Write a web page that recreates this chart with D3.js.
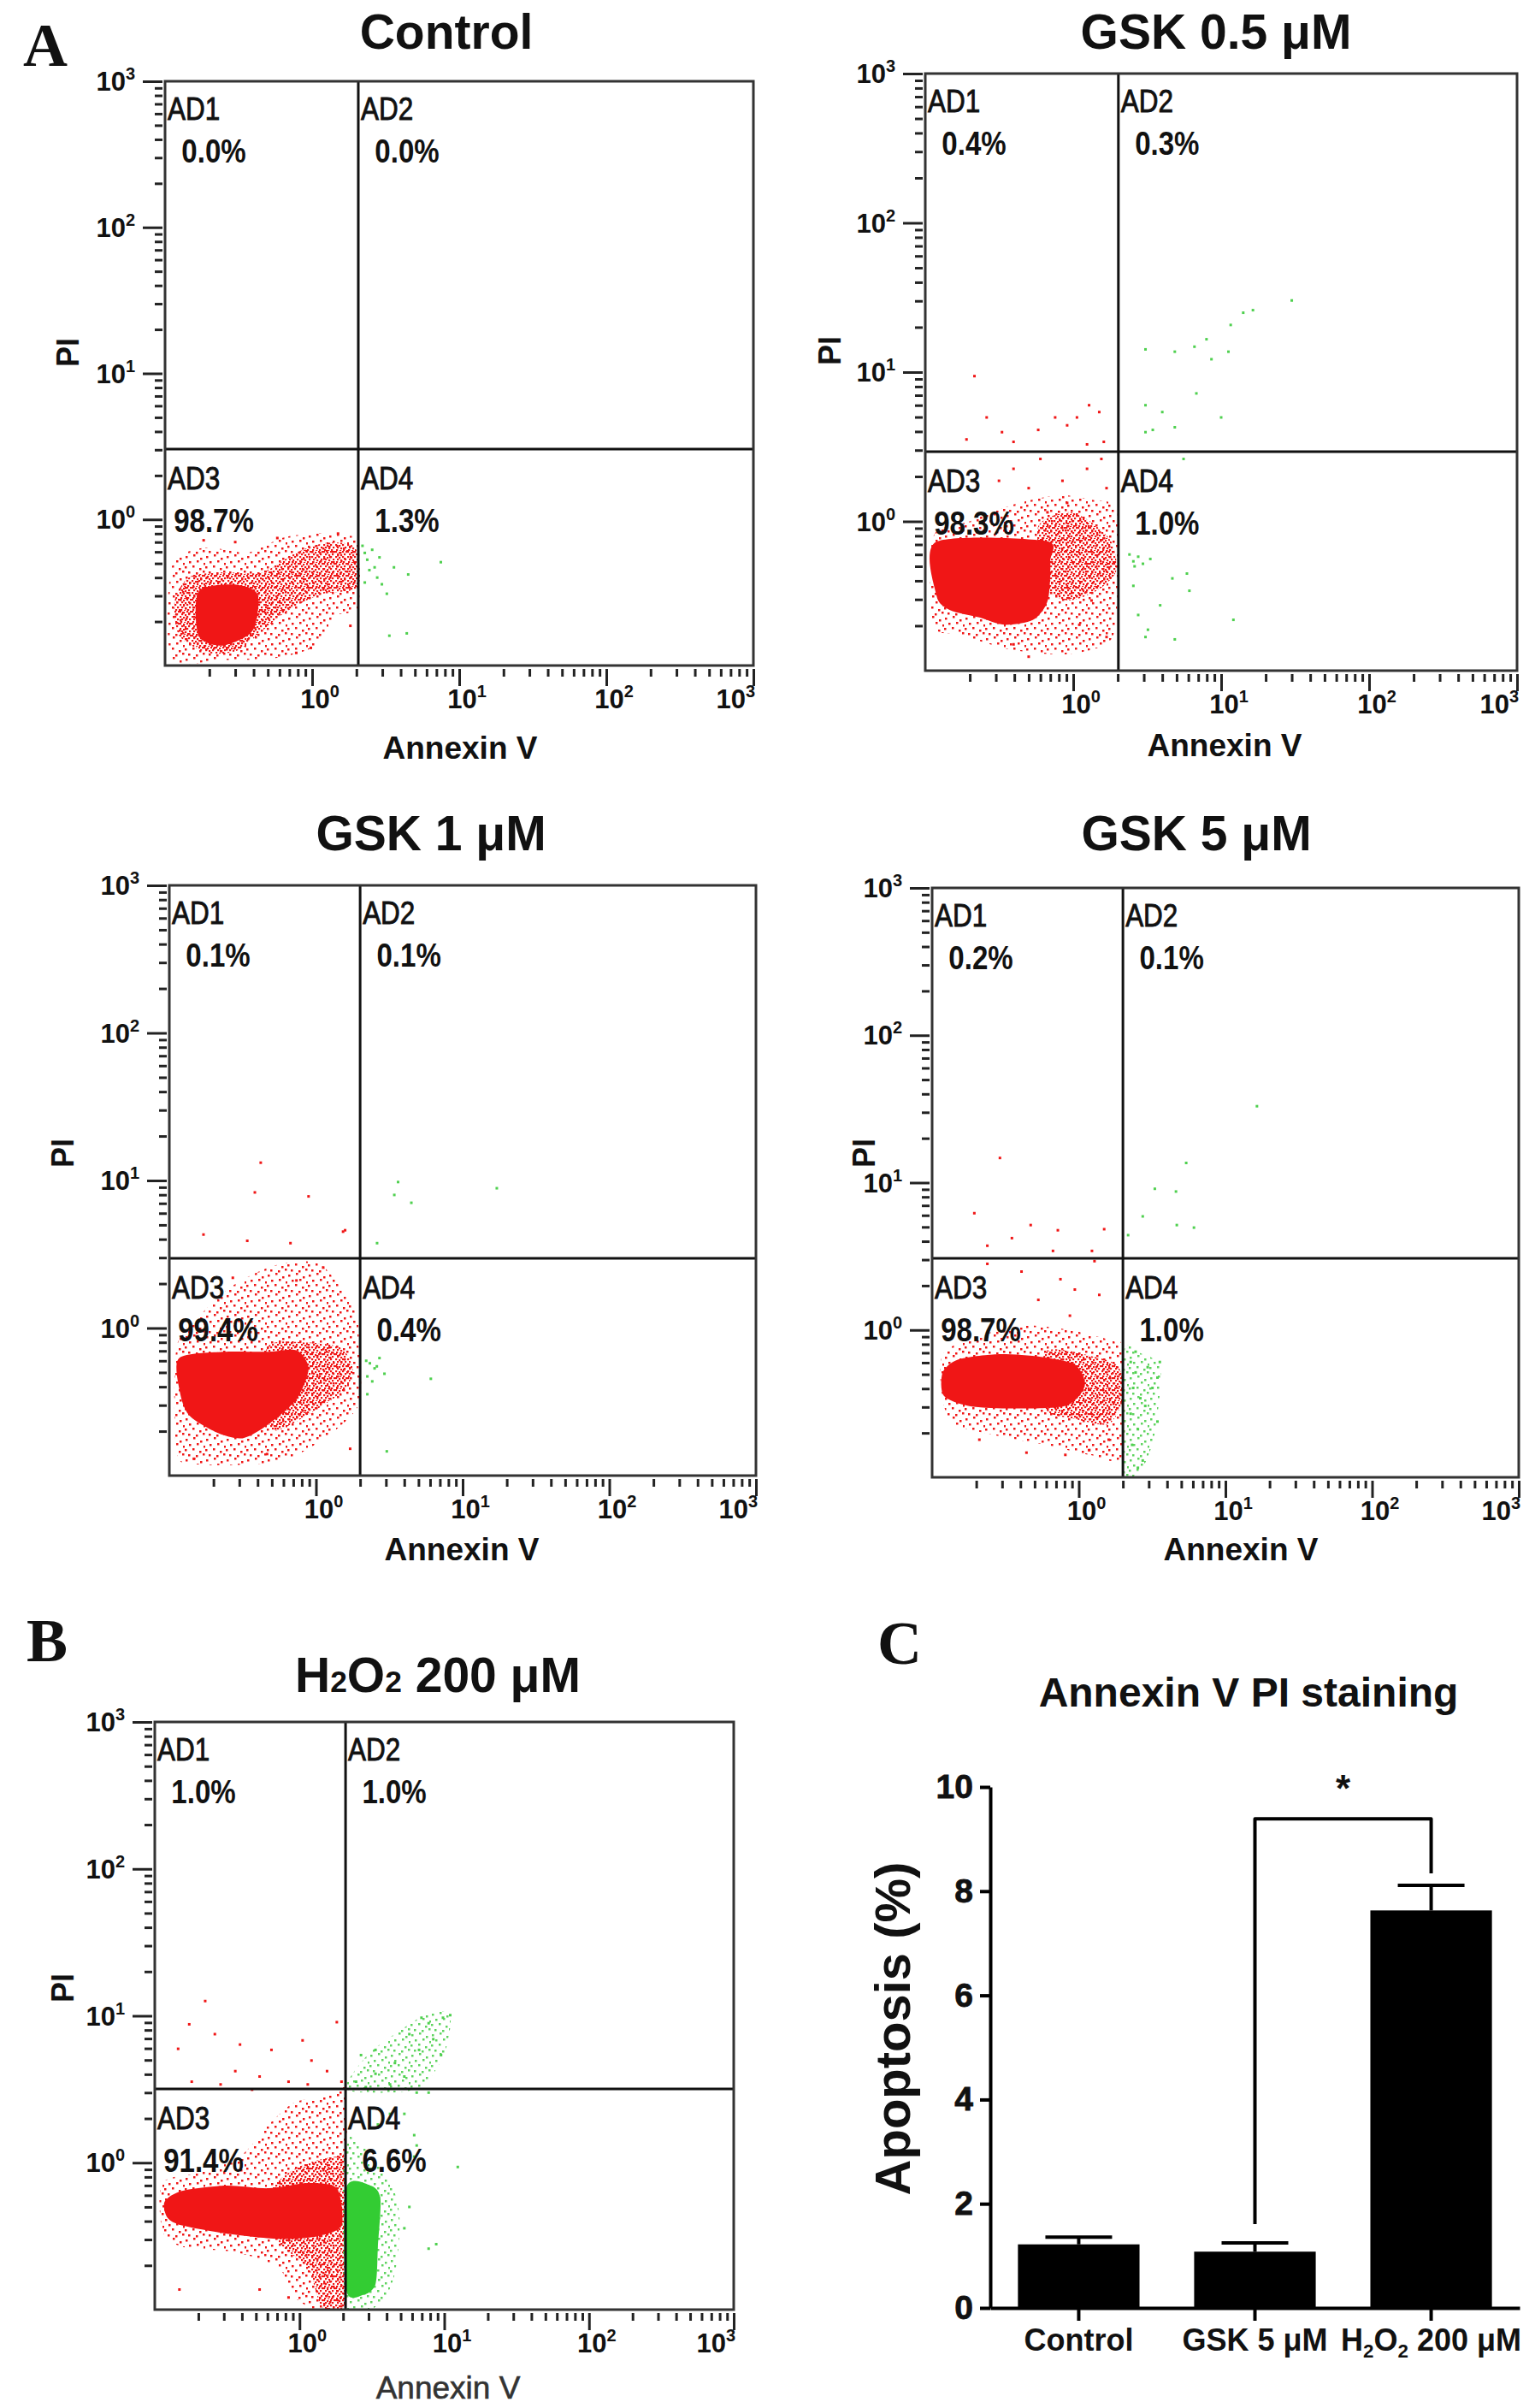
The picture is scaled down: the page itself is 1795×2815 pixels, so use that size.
<!DOCTYPE html>
<html>
<head>
<meta charset="utf-8">
<script src="https://cdn.jsdelivr.net/npm/d3@7"></script>
<style>
  body { margin: 0; background: #fff; }
  svg text { font-family: "Liberation Sans", Arial, sans-serif; fill: #111; }
</style>
</head>
<body>
<svg id="fig" width="1795" height="2815"></svg>
<script>
/*
Data
*/

const panelTitles = ["Control", "GSK 0.5 μM", "GSK 1 μM", "GSK 5 μM", "H2O2 200 μM"];
const quadrantNames = ["AD1", "AD2", "AD3", "AD4"];
const decadeTicks = [1, 10, 100, 1000];

// quadrant percentages AD1..AD4
const controlPct = [0.0, 0.0, 98.7, 1.3];
const gsk05Pct = [0.4, 0.3, 98.3, 1.0];
const gsk1Pct = [0.1, 0.1, 99.4, 0.4];
const gsk5Pct = [0.2, 0.1, 98.7, 1.0];
const h2o2Pct = [1.0, 1.0, 91.4, 6.6];

// quadrant gates [Annexin V, PI]
const controlGate = [2.06, 3.03];
const gsk05Gate = [2.02, 2.93];
const gsk1Gate = [2.0, 2.97];
const gsk5Gate = [2.0, 3.06];
const h2o2Gate = [2.08, 3.18];

// event clouds, outlines as [Annexin V, PI]
const controlCore = [[0.169,0.32],[0.29,0.359],[0.425,0.308],[0.394,0.173],[0.248,0.137],[0.169,0.16]];
const controlMid = [[0.116,0.274],[0.146,0.403],[0.248,0.435],[0.458,0.435],[0.78,0.593],[1.24,0.69],[1.96,0.64],[2.04,0.345],[1.15,0.308],[0.67,0.235],[0.458,0.173],[0.313,0.127],[0.198,0.122],[0.125,0.16]];
const controlHalo = [[0.111,0.47],[0.183,0.64],[0.364,0.593],[0.62,0.746],[1.06,0.806],[1.68,0.776],[2.06,0.69],[2.06,0.254],[1.44,0.218],[1.06,0.137],[0.577,0.113],[0.248,0.109],[0.111,0.113]];
const controlRed = [[1.82,0.187],[0.98,0.132],[0.78,0.122],[0.183,0.72],[0.58,0.746],[1.5,0.8],[0.3,0.7]];
const controlGreen = [[2.28,0.59],[2.37,0.53],[2.66,0.47],[2.87,0.55],[2.77,0.4],[2.98,0.36],[2.56,0.62],[3.6,0.47],[4.5,0.42],[7.5,0.51],[3.35,0.16],[4.4,0.166],[2.28,0.37],[3.22,0.31],[2.45,0.45],[2.2,0.66]];

const gsk05Core = [[0.119,0.73],[0.649,0.74],[0.7,0.54],[0.673,0.296],[0.536,0.219],[0.34,0.203],[0.232,0.227],[0.147,0.254],[0.119,0.319]];
const gsk05Mid = [[0.578,0.914],[0.913,1.15],[1.33,0.985],[1.81,0.73],[1.95,0.464],[1.44,0.343],[0.913,0.296],[0.649,0.37]];
const gsk05Halo = [[0.113,0.786],[0.2,1.0],[0.4,1.3],[0.8,1.5],[1.3,1.4],[1.95,1.2],[2.0,0.37],[1.81,0.162],[0.913,0.129],[0.367,0.139],[0.171,0.175],[0.113,0.203]];
const gsk05Red = [[0.215,9.4],[0.26,4.97],[0.19,3.54],[0.33,3.96],[0.395,3.41],[0.58,4.1],[0.755,4.97],[0.91,4.4],[1.06,4.97],[1.28,6.0],[1.5,5.4],[1.61,3.41],[1.24,3.28],[0.6,2.62],[0.395,2.25],[0.315,1.87],[0.5,1.67],[0.846,1.87],[1.24,2.25],[1.55,2.62],[1.68,1.67],[0.91,1.33],[0.67,1.15],[1.68,0.168],[0.5,0.124],[0.395,0.15],[1.33,0.295],[1.1,0.203]];
const gsk05Green = [[2.55,0.54],[2.75,0.58],[2.96,0.52],[3.32,0.56],[3.08,0.168],[3.2,0.188],[3.87,0.274],[4.68,0.415],[5.87,0.447],[6.1,0.343],[4.86,0.162],[2.55,0.37],[2.75,0.236],[12.1,0.219],[3.08,14.2],[4.86,13.7],[6.6,14.8],[7.96,16.6],[11.6,20.7],[14.1,25],[16.4,26],[30,30.2],[11.2,13.7],[8.6,12.2],[3.08,6.0],[4.0,5.4],[3.08,3.96],[3.45,4.1],[4.86,4.27],[6.8,7.2],[10,4.97],[5.57,2.62],[2.4,0.6],[2.6,0.5]];

const gsk1Core = [[0.117,0.626],[0.233,0.69],[0.464,0.69],[0.736,0.707],[0.89,0.532],[0.736,0.328],[0.464,0.219],[0.316,0.179],[0.215,0.194],[0.136,0.257],[0.117,0.385]];
const gsk1Mid = [[0.464,0.735],[0.857,0.797],[1.47,0.735],[1.78,0.532],[1.58,0.385],[1.0,0.279],[0.54,0.202],[0.464,0.257]];
const gsk1Halo = [[0.112,0.735],[0.158,1.19],[0.271,1.94],[0.54,2.68],[1.08,2.68],[1.85,1.29],[1.96,0.735],[1.96,0.303],[1.08,0.172],[0.54,0.124],[0.158,0.119],[0.112,0.146]];
const gsk1Red = [[0.42,13.2],[0.383,8.3],[0.89,7.8],[0.171,4.3],[0.34,3.9],[0.67,3.76],[1.53,4.5],[1.58,4.6],[1.12,2.57],[0.271,2.19],[0.736,2.1],[1.71,0.152],[0.147,0.13],[0.464,0.14]];
const gsk1Green = [[2.33,0.577],[2.51,0.533],[2.71,0.626],[2.24,0.47],[2.93,0.49],[2.42,0.435],[6.07,0.453],[3.63,9.76],[3.42,7.98],[4.47,7.06],[17.1,8.86],[2.61,3.76],[3.04,0.146],[2.24,0.356],[2.2,0.6],[2.6,0.55]];

const gsk5Core = [[0.118,0.515],[0.151,0.631],[0.278,0.684],[0.552,0.657],[0.94,0.582],[1.1,0.421],[0.81,0.305],[0.324,0.293],[0.176,0.305],[0.12,0.358]];
const gsk5Mid = [[0.595,0.712],[1.28,0.657],[1.87,0.559],[2.0,0.344],[1.6,0.23],[0.94,0.249],[0.595,0.293]];
const gsk5Halo = [[0.116,0.657],[0.205,0.908],[0.439,1.07],[0.94,0.984],[1.73,0.837],[2.0,0.712],[2.0,0.142],[1.18,0.142],[0.595,0.166],[0.257,0.195],[0.13,0.249]];
const gsk5GreenHalo = [[2.02,0.7],[2.6,0.7],[3.6,0.55],[3.3,0.2],[2.7,0.115],[2.02,0.11]];
const gsk5Red = [[0.29,14.7],[0.194,6.2],[0.47,5.15],[0.72,4.75],[1.49,4.83],[0.238,3.73],[0.35,4.2],[0.667,3.44],[1.23,3.44],[0.238,2.81],[0.407,2.49],[0.75,2.21],[0.94,1.88],[1.38,1.73],[0.53,1.6],[0.87,1.25],[1.18,0.153],[0.81,0.142],[1.6,0.18],[0.21,0.18],[0.44,0.147],[1.28,2.93]];
const gsk5Green = [[2.26,0.606],[2.44,0.515],[2.35,0.404],[2.63,0.344],[2.26,0.27],[2.53,0.212],[2.31,0.166],[2.73,0.13],[3.44,0.475],[3.57,0.606],[2.95,0.559],[3.18,0.404],[2.44,0.712],[2.84,0.305],[3.44,0.239],[2.53,0.116],[3.3,9.08],[4.6,8.7],[5.4,13.6],[2.73,5.9],[4.66,5.15],[6.1,4.95],[16.4,33],[2.17,4.4]];

const h2o2Core = [[0.117,0.544],[0.154,0.643],[0.308,0.698],[0.615,0.67],[1.14,0.728],[1.81,0.67],[1.95,0.374],[1.33,0.316],[0.718,0.303],[0.308,0.33],[0.154,0.374],[0.122,0.424]];
const h2o2Mid = [[0.615,0.617],[0.977,0.935],[1.81,1.1],[2.08,0.935],[2.08,0.107],[1.44,0.103],[1.14,0.192],[0.718,0.291]];
const h2o2Halo = [[0.113,0.728],[0.21,0.861],[0.388,1.1],[0.615,1.82],[0.905,2.55],[1.33,2.77],[1.81,3.0],[2.08,3.0],[2.08,0.103],[0.977,0.116],[0.718,0.192],[0.359,0.246],[0.154,0.268],[0.113,0.344]];
const h2o2GreenCore = [[2.1,0.67],[3.1,0.698],[3.62,0.567],[3.48,0.268],[3.35,0.149],[2.76,0.126],[2.1,0.137]];
const h2o2GreenHalo = [[2.1,1.42],[4.22,0.728],[4.92,0.406],[4.56,0.176],[3.62,0.111],[2.1,0.103]];
const h2o2GreenUpper = [[2.1,3.2],[3.0,5.5],[5.0,8.0],[8.0,10.5],[11.0,10.0],[10.0,5.5],[7.0,3.3],[4.0,3.0]];
const h2o2Red = [[0.223,12.6],[0.173,8.75],[0.26,7.5],[0.145,5.96],[0.388,6.37],[0.64,5.86],[1.05,6.8],[1.81,9.05],[1.21,4.96],[1.55,4.2],[0.18,3.56],[0.36,4.2],[0.53,3.86],[0.84,3.56],[1.95,3.56],[1.14,3.41],[0.47,3.14],[0.285,3.41],[0.148,0.137],[0.84,0.121],[0.53,0.137]];
const h2o2Green = [[2.66,5.4],[3.35,5.86],[4.56,4.77],[5.74,7.5],[6.7,5.86],[7.8,8.9],[8.4,6.93],[9.5,5.4],[11.0,10.1],[9.8,9.7],[6.96,9.7],[5.3,3.86],[3.35,4.03],[2.46,3.56],[2.87,3.27],[4.22,3.41],[6.45,3.0],[7.8,3.0],[4.22,2.15],[5.3,2.15],[6.2,1.54],[6.45,1.31],[3.48,1.82],[6.2,1.1],[8.8,0.279],[7.8,0.26],[12.4,0.935],[5.3,0.358],[5.74,0.5]];

// panel C
const barGroups = ["Control", "GSK 5 μM", "H2O2 200 μM"];
const barMeans = [1.22, 1.08, 7.63];
const barErrors = [0.14, 0.17, 0.48];
const barTicks = [0, 2, 4, 6, 8, 10];
const sigPair = ["GSK 5 μM", "H2O2 200 μM"];
const sigLevels = [1.61, 9.39, 8.34];

/*
Styles and layout
*/

const RED = "#f01616";
const GREEN = "#33cc33";
// speckle tiles, hand placed so they do not read as a grid
const sparseDots = [[1,2],[10,0],[18,4],[5,8],[14,7],[22,10],[0,14],[9,13],[17,16],[4,20],[13,21],[21,19]];
const denseDots = [[0,0],[4,1],[8,0],[2,3],[6,4],[10,3],[0,6],[4,7],[8,6],[11,9],[2,9],[6,10],[9,12],[1,12],[5,13],[12,0]];

const panelLayout = [
  { box: [193, 95, 881, 778], title: [522, 57], pi: [92, 412], annex: [538, 887] },
  { box: [1082, 86, 1774, 784], title: [1422, 57], pi: [983, 410], annex: [1432, 884] },
  { box: [198, 1035, 884, 1725], title: [504, 994], pi: [86, 1348], annex: [540, 1824] },
  { box: [1090, 1038, 1776, 1727], title: [1399, 994], pi: [1023, 1348], annex: [1451, 1824] },
  { box: [181, 2013, 858, 2700], title: [512, 1978], pi: [86, 2324], annex: [524, 2804], light: true }
];

const svg = d3.select("#fig");
const defs = svg.append("defs");

function addPattern(id, tile, dots, color, size) {
  let p = defs.append("pattern").attr("id", id)
    .attr("patternUnits", "userSpaceOnUse")
    .attr("width", tile).attr("height", tile);
  p.selectAll("rect").data(dots).join("rect")
    .attr("x", d => d[0]).attr("y", d => d[1])
    .attr("width", size).attr("height", size)
    .attr("fill", color);
}
addPattern("redSparse", 24, sparseDots, RED, 2.5);
addPattern("redDense", 14, denseDots, RED, 2.2);
addPattern("greenSparse", 24, sparseDots, "#5fd45f", 2.5);

// H2O2 style label: digit after H or O drawn small (optionally lowered)
function chemSpans(sel, str, shift) {
  let parts = str.split(/(?<=[HO])(2)/);
  let lowered = false;
  parts.forEach((p, i) => {
    if (!p) return;
    let t = sel.append("tspan").text(p);
    if (i % 2 === 1) {
      t.attr("font-size", "0.62em");
      if (shift) { t.attr("dy", shift); lowered = true; }
    } else if (lowered) {
      t.attr("dy", -shift); lowered = false;
    }
  });
}

/*
Flow panel
*/

var FlowPanel = function (config) {
  return this.__init__(config);
};

FlowPanel.prototype = {

  __init__ : function (config) {
    let self = this;
    self.index  = config.index;
    self.title  = config.title;
    self.pct    = config.pct;
    self.gate   = config.gate;
    self.clouds = config.clouds;
    self.red    = config.red;
    self.green  = config.green;
    self.lay    = config.layout;

    let b = self.lay.box;
    self.x = d3.scaleLog().domain([0.1, 1000]).range([b[0], b[2]]);
    self.y = d3.scaleLog().domain([0.1, 1000]).range([b[3], b[1]]);
    return self;
  },

  draw : function () {
    let self = this, x = self.x, y = self.y, b = self.lay.box;
    let g = svg.append("g");

    let clipId = "clip" + self.index;
    defs.append("clipPath").attr("id", clipId).append("rect")
      .attr("x", b[0]).attr("y", b[1])
      .attr("width", b[2] - b[0]).attr("height", b[3] - b[1]);

    let cloud = g.append("g").attr("clip-path", "url(#" + clipId + ")");
    let blob = d3.line()
      .x(d => x(d[0])).y(d => y(d[1]))
      .curve(d3.curveCardinalClosed.tension(0.2));

    self.clouds.forEach(c => {
      cloud.append("path").attr("d", blob(c.pts)).attr("fill", c.fill);
    });

    cloud.selectAll(".red").data(self.red).join("rect")
      .attr("x", d => x(d[0]) - 1.5).attr("y", d => y(d[1]) - 1.5)
      .attr("width", 3).attr("height", 3).attr("fill", RED);
    cloud.selectAll(".green").data(self.green).join("rect")
      .attr("x", d => x(d[0]) - 1.5).attr("y", d => y(d[1]) - 1.5)
      .attr("width", 3).attr("height", 3).attr("fill", "#4fd04f");

    // gates
    let gx = x(self.gate[0]), gy = y(self.gate[1]);
    g.append("line").attr("x1", gx).attr("x2", gx).attr("y1", b[1]).attr("y2", b[3])
      .attr("stroke", "#111").attr("stroke-width", 3);
    g.append("line").attr("x1", b[0]).attr("x2", b[2]).attr("y1", gy).attr("y2", gy)
      .attr("stroke", "#111").attr("stroke-width", 3);

    g.append("rect").attr("x", b[0]).attr("y", b[1])
      .attr("width", b[2] - b[0]).attr("height", b[3] - b[1])
      .attr("fill", "none").attr("stroke", "#333").attr("stroke-width", 3);

    // axes
    let isDecade = v => Math.abs(Math.log10(v) - Math.round(Math.log10(v))) < 1e-6;
    let minor = y.ticks().filter(v => !isDecade(v));
    let styleAxis = s => {
      s.select(".domain").remove();
      s.selectAll("line").attr("stroke", "#222").attr("stroke-width", 3);
    };
    g.append("g").attr("transform", "translate(" + (b[0] - 3) + ",0)")
      .call(d3.axisLeft(y).tickValues(minor).tickSize(9).tickFormat("")).call(styleAxis);
    g.append("g").attr("transform", "translate(" + (b[0] - 3) + ",0)")
      .call(d3.axisLeft(y).tickValues(decadeTicks).tickSize(23).tickFormat("")).call(styleAxis);
    g.append("g").attr("transform", "translate(0," + (b[3] + 4) + ")")
      .call(d3.axisBottom(x).tickValues(minor).tickSize(9).tickFormat("")).call(styleAxis);
    g.append("g").attr("transform", "translate(0," + (b[3] + 4) + ")")
      .call(d3.axisBottom(x).tickValues(decadeTicks).tickSize(20).tickFormat("")).call(styleAxis);

    let power = (sel) => sel.each(function (d) {
      let t = d3.select(this);
      t.append("tspan").text("10");
      t.append("tspan").attr("dy", -13).attr("font-size", 20).text(Math.round(Math.log10(d)));
    });

    g.selectAll(".ylab").data(decadeTicks).join("text")
      .attr("x", b[0] - 35).attr("y", d => y(d) + 11)
      .attr("text-anchor", "end").attr("font-size", 31).attr("font-weight", "bold")
      .call(power);
    g.selectAll(".xlab").data(decadeTicks).join("text")
      .attr("x", d => d === 1000 ? b[2] + 2 : x(d) + 9)
      .attr("y", b[3] + 50)
      .attr("text-anchor", d => d === 1000 ? "end" : "middle")
      .attr("font-size", 31).attr("font-weight", "bold")
      .call(power);

    // quadrant labels
    let qx = [b[0], gx, b[0], gx];
    let qy = [b[1], b[1], gy, gy];
    quadrantNames.forEach((name, i) => {
      g.append("text")
        .attr("transform", "translate(" + (qx[i] + 3) + "," + (qy[i] + (i < 2 ? 45 : 47)) + ") scale(0.85,1)")
        .attr("font-size", 37).attr("stroke", "#111").attr("stroke-width", 0.9)
        .text(name);
      g.append("text")
        .attr("transform", "translate(" + (qx[i] + 57) + "," + (qy[i] + (i < 2 ? 95 : 97)) + ") scale(0.87,1)")
        .attr("text-anchor", "middle").attr("font-size", 38).attr("font-weight", "bold")
        .text(self.pct[i].toFixed(1) + "%");
    });

    // titles
    let title = g.append("text")
      .attr("x", self.lay.title[0]).attr("y", self.lay.title[1])
      .attr("text-anchor", "middle").attr("font-size", 57).attr("font-weight", "bold");
    chemSpans(title, self.title, 0);

    g.append("text")
      .attr("transform", "translate(" + self.lay.pi[0] + "," + self.lay.pi[1] + ") rotate(-90)")
      .attr("text-anchor", "middle").attr("font-size", 36).attr("font-weight", "bold")
      .text("PI");

    g.append("text")
      .attr("x", self.lay.annex[0]).attr("y", self.lay.annex[1])
      .attr("text-anchor", "middle").attr("font-size", 37)
      .attr("font-weight", self.lay.light ? "normal" : "bold")
      .attr("stroke", self.lay.light ? "#333" : "none").attr("stroke-width", 0.6)
      .style("fill", self.lay.light ? "#333" : "#111")
      .text("Annexin V");

    return self;
  }
};

/*
Panels A and B
*/

const panelData = [
  { pct: controlPct, gate: controlGate, red: controlRed, green: controlGreen,
    clouds: [{ pts: controlHalo, fill: "url(#redSparse)" }, { pts: controlMid, fill: "url(#redDense)" }, { pts: controlCore, fill: RED }] },
  { pct: gsk05Pct, gate: gsk05Gate, red: gsk05Red, green: gsk05Green,
    clouds: [{ pts: gsk05Halo, fill: "url(#redSparse)" }, { pts: gsk05Mid, fill: "url(#redDense)" }, { pts: gsk05Core, fill: RED }] },
  { pct: gsk1Pct, gate: gsk1Gate, red: gsk1Red, green: gsk1Green,
    clouds: [{ pts: gsk1Halo, fill: "url(#redSparse)" }, { pts: gsk1Mid, fill: "url(#redDense)" }, { pts: gsk1Core, fill: RED }] },
  { pct: gsk5Pct, gate: gsk5Gate, red: gsk5Red, green: gsk5Green,
    clouds: [{ pts: gsk5Halo, fill: "url(#redSparse)" }, { pts: gsk5Mid, fill: "url(#redDense)" }, { pts: gsk5Core, fill: RED },
             { pts: gsk5GreenHalo, fill: "url(#greenSparse)" }] },
  { pct: h2o2Pct, gate: h2o2Gate, red: h2o2Red, green: h2o2Green,
    clouds: [{ pts: h2o2Halo, fill: "url(#redSparse)" }, { pts: h2o2Mid, fill: "url(#redDense)" }, { pts: h2o2Core, fill: RED },
             { pts: h2o2GreenUpper, fill: "url(#greenSparse)" }, { pts: h2o2GreenHalo, fill: "url(#greenSparse)" },
             { pts: h2o2GreenCore, fill: GREEN }] }
];

panelData.forEach((d, i) => {
  new FlowPanel({
    index: i, title: panelTitles[i], pct: d.pct, gate: d.gate,
    clouds: d.clouds, red: d.red, green: d.green, layout: panelLayout[i]
  }).draw();
});

/*
Panel C
*/

const bx = d3.scaleBand().domain(barGroups).range([1158, 1777]).paddingInner(0.31).paddingOuter(0.157);
const by = d3.scaleLinear().domain([0, 10]).range([2698, 2089]);
const bc = g => bx(g) + bx.bandwidth() / 2;

const cg = svg.append("g");

cg.selectAll(".bar").data(barGroups).join("rect")
  .attr("x", d => bx(d)).attr("width", bx.bandwidth())
  .attr("y", (d, i) => by(barMeans[i]))
  .attr("height", (d, i) => by(0) - by(barMeans[i]))
  .attr("fill", "#000");

barGroups.forEach((d, i) => {
  let top = by(barMeans[i] + barErrors[i]);
  cg.append("line").attr("x1", bc(d)).attr("x2", bc(d))
    .attr("y1", by(barMeans[i])).attr("y2", top)
    .attr("stroke", "#000").attr("stroke-width", 4);
  cg.append("line").attr("x1", bc(d) - 39).attr("x2", bc(d) + 39)
    .attr("y1", top).attr("y2", top)
    .attr("stroke", "#000").attr("stroke-width", 4);
});

let yAx = cg.append("g").attr("transform", "translate(1158,0)")
  .call(d3.axisLeft(by).tickValues(barTicks).tickSize(12).tickSizeOuter(0).tickPadding(8));
yAx.attr("font-size", 39).attr("font-weight", "bold")
  .attr("font-family", "'Liberation Sans', Arial, sans-serif");
yAx.selectAll("line, path").attr("stroke", "#000").attr("stroke-width", 4);
yAx.selectAll("text").style("fill", "#111").attr("stroke", "#111").attr("stroke-width", 0.8);

let xAx = cg.append("g").attr("transform", "translate(0,2698)")
  .call(d3.axisBottom(bx).tickSize(15).tickSizeOuter(0).tickFormat(""));
xAx.selectAll("line, path").attr("stroke", "#000").attr("stroke-width", 4);

barGroups.forEach(d => {
  let t = cg.append("text").attr("x", bc(d)).attr("y", 2748)
    .attr("text-anchor", "middle").attr("font-size", 36).attr("font-weight", "bold");
  chemSpans(t, d, 8);
});

// significance bracket
cg.append("path")
  .attr("d", d3.line()([
    [bc(sigPair[0]), by(sigLevels[0])],
    [bc(sigPair[0]), by(sigLevels[1])],
    [bc(sigPair[1]), by(sigLevels[1])],
    [bc(sigPair[1]), by(sigLevels[2])]
  ]))
  .attr("fill", "none").attr("stroke", "#000").attr("stroke-width", 4)
  .attr("stroke-linejoin", "round");
cg.append("text")
  .attr("x", (bc(sigPair[0]) + bc(sigPair[1])) / 2).attr("y", by(sigLevels[1]) - 20)
  .attr("text-anchor", "middle").attr("font-size", 44).attr("font-weight", "bold").text("*");

cg.append("text").attr("x", 1460).attr("y", 1995)
  .attr("text-anchor", "middle").attr("font-size", 48).attr("font-weight", "bold")
  .text("Annexin V PI staining");
cg.append("text").attr("transform", "translate(1064," + ((by(0) + by(10)) / 2 - 22) + ") rotate(-90)")
  .attr("text-anchor", "middle").attr("font-size", 58).attr("font-weight", "bold")
  .text("Apoptosis (%)");

/*
Panel letters
*/

svg.selectAll(".letter").data([["A", 27, 77], ["B", 31, 1942], ["C", 1026, 1945]]).join("text")
  .attr("x", d => d[1]).attr("y", d => d[2])
  .attr("font-size", 72).attr("font-weight", "bold")
  .style("font-family", "'Liberation Serif', 'Times New Roman', serif")
  .text(d => d[0]);
</script>
</body>
</html>
